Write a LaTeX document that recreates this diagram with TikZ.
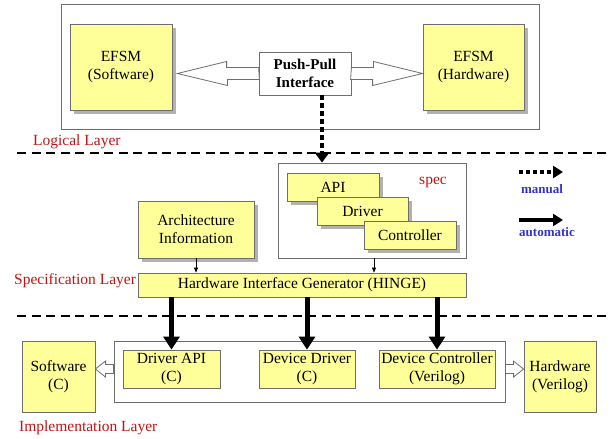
\documentclass[tikz,border=0pt]{standalone}
\usepackage{fontspec}
\setmainfont{Liberation Serif}
\usetikzlibrary{arrows.meta,shadows,calc}
\definecolor{boxyellow}{RGB}{255,255,153}
\definecolor{boxline}{RGB}{110,110,110}
\definecolor{shadowgray}{RGB}{178,178,178}
\definecolor{layerred}{RGB}{192,20,20}
\definecolor{legendblue}{RGB}{51,51,204}

\begin{document}
\begin{tikzpicture}[x=1pt,y=-1pt,
  every node/.style={font=\fontsize{15.5}{18}\selectfont, align=center, inner sep=0pt},
  panel/.style={draw=boxline, fill=white, line width=0.8pt},
  ybox/.style={draw=boxline, fill=boxyellow, line width=0.8pt},
  sbox/.style={ybox, drop shadow={shadow xshift=4pt, shadow yshift=-4pt, fill=shadowgray, opacity=1}},
  layerlabel/.style={text=layerred, anchor=west},
  legendlabel/.style={text=legendblue, font=\fontsize{13}{15}\selectfont\bfseries},
  layerline/.style={line width=2.5pt, dash pattern=on 9pt off 5.5pt},
  blockarrow/.style={draw=boxline, fill=white, line width=0.8pt, line join=miter},
  manualarrow/.style={line width=4.5pt, dash pattern=on 5pt off 3pt, -{Triangle[length=10pt,width=14pt]}},
  autoarrow/.style={line width=5pt, -{Triangle[length=13pt,width=16pt]}},
  thinarrow/.style={line width=0.6pt, -{Triangle[length=5pt,width=4pt]}}
]
\useasboundingbox (0,0) rectangle (611,439);

% ---------- Logical layer ----------
\node[panel, minimum width=478pt, minimum height=125pt] (logic) at (300,66.5) {};
\node[sbox, minimum width=102pt, minimum height=86pt] (efsmsw) at (121,67) {EFSM\\(Software)};
\node[sbox, minimum width=101pt, minimum height=86pt] (efsmhw) at (473.5,67) {EFSM\\(Hardware)};
\node[panel, minimum width=92pt, minimum height=43pt, font=\fontsize{15}{18}\selectfont\bfseries] (pp) at (305,73.5) {Push-Pull\\Interface};

% open block arrows from the push-pull interface
\draw[blockarrow] (pp.west) ++(0,-6) -- ++(-32,0) -- ++(0,-6)
  -- ([xshift=5pt]efsmsw.east |- pp.west) -- ++(50,12) -- ++(0,-6) -- ++(32,0) -- cycle;
\draw[blockarrow] (pp.east) ++(0,-6) -- ++(22,0) -- ++(0,-6)
  -- (efsmhw.west |- pp.east) -- ++(-50,12) -- ++(0,-6) -- ++(-22,0) -- cycle;

\node[layerlabel] (lablogic) at (33,142) {Logical Layer};

% ---------- layer separators ----------
\draw[layerline] (17,153) -- (611,153);
\draw[layerline] (17,316) -- (611,316);

% ---------- Specification layer ----------
\node[panel, minimum width=188pt, minimum height=95pt] (spec) at (372,210.5) {};
\node[sbox, minimum width=92pt, minimum height=28pt] (api) at (333,187) {API};
\node[sbox, minimum width=91pt, minimum height=28pt] (driver) at (362.5,211) {Driver};
\node[sbox, minimum width=92pt, minimum height=28pt] (ctrl) at (410,235) {Controller};
\node[text=layerred] (speclabel) at (433,182) {spec};

\node[sbox, minimum width=116pt, minimum height=57pt] (arch) at (196,229.5) {Architecture\\Information};
\node[ybox, minimum width=328pt, minimum height=24pt] (hinge) at (302,285) {Hardware Interface Generator (HINGE)};
\node[layerlabel] (labspec) at (14,281) {Specification Layer};

\draw[thinarrow] (arch.south) -- (arch.south |- hinge.north);
\draw[thinarrow] ([xshift=2pt]spec.south) -- ([xshift=2pt]spec.south |- hinge.north);

\draw[manualarrow] ([xshift=17pt]pp.south) -- ([xshift=17pt]pp.south |- spec.north);

% ---------- legend ----------
\coordinate (lm1) at (519,172);
\coordinate (lm2) at (563,172);
\coordinate (la1) at (519,220);
\coordinate (la2) at (563,220);
\draw[line width=4pt, dash pattern=on 4pt off 3pt, -{Triangle[length=10pt,width=12pt]}] (lm1) -- (lm2);
\draw[line width=4pt, -{Triangle[length=10pt,width=12pt]}] (la1) -- (la2);
\node[legendlabel] (lmanual) at (542,189) {manual};
\node[legendlabel] (lauto) at (547,232) {automatic};

% ---------- Implementation layer ----------
\node[panel, minimum width=391pt, minimum height=61pt] (impl) at (309.5,371.5) {};
\node[ybox, minimum width=97pt, minimum height=38pt] (dapi) at (171.5,369) {Driver API\\(C)};
\node[ybox, minimum width=96pt, minimum height=38pt] (ddrv) at (307,369) {Device Driver\\(C)};
\node[ybox, minimum width=116pt, minimum height=38pt] (dctl) at (437,369) {Device Controller\\(Verilog)};
\node[ybox, minimum width=73pt, minimum height=71pt] (sw) at (58.5,376.5) {Software\\(C)};
\node[ybox, minimum width=72pt, minimum height=71pt] (hw) at (560,376.5) {Hardware\\(Verilog)};
\node[layerlabel] (labimpl) at (19,428) {Implementation Layer};

\draw[autoarrow] (dapi.north |- hinge.south) -- (dapi.north);
\draw[autoarrow] (ddrv.north |- hinge.south) -- (ddrv.north);
\draw[autoarrow] (dctl.north |- hinge.south) -- (dctl.north);

\draw[blockarrow] (impl.west |- dapi.west) ++(0,-4.5) -- ++(-8,0) -- ++(0,-3.5)
  -- (sw.east |- dapi.west) -- ++(10,8) -- ++(0,-3.5) -- ++(8,0) -- cycle;
\draw[blockarrow] (impl.east |- dctl.east) ++(0,-4.5) -- ++(8,0) -- ++(0,-3.5)
  -- (hw.west |- dctl.east) -- ++(-10,8) -- ++(0,-3.5) -- ++(-8,0) -- cycle;
\end{tikzpicture}
\end{document}
